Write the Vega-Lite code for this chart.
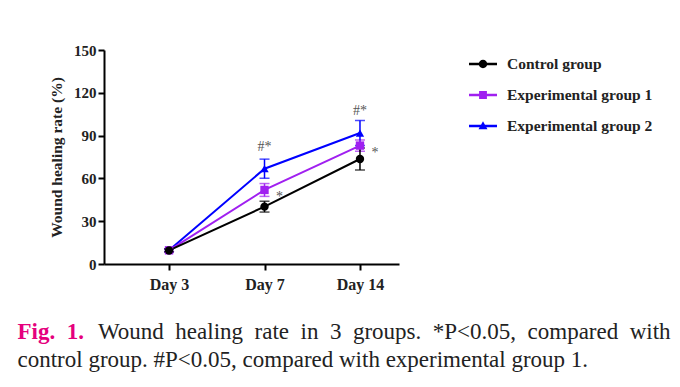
{
  "$schema": "https://vega.github.io/schema/vega-lite/v6.json",
  "width": 295,
  "height": 214,
  "padding": {"left": 17, "top": 43, "right": 10, "bottom": 10},
  "background": "white",
  "config": {
    "view": {"stroke": null},
    "font": "Liberation Serif",
    "legend": {
      "title": null,
      "orient": "right",
      "offset": 70,
      "padding": 0,
      "labelFont": "Liberation Serif",
      "labelFontWeight": "bold",
      "labelFontSize": 15.5,
      "labelColor": "#222222",
      "labelOffset": 10,
      "symbolSize": 784,
      "symbolStrokeWidth": 0,
      "symbolOpacity": 1
    }
  },
  "title": {
    "text": "Fig.\u00a0\u00a01.",
    "orient": "bottom",
    "anchor": "start",
    "dx": -32,
    "offset": 29,
    "font": "Liberation Serif",
    "fontSize": 23,
    "fontWeight": "bold",
    "color": "#e5007d",
    "subtitle": [
      "\u200b\u00a0\u00a0\u00a0\u00a0\u00a0\u00a0\u00a0\u00a0\u00a0\u00a0\u00a0\u00a0\u00a0\u00a0Wound\u00a0\u00a0healing\u00a0\u00a0rate\u00a0\u00a0in\u00a0\u00a03\u00a0\u00a0groups.\u00a0\u00a0*P<0.05,\u00a0\u00a0compared\u00a0\u00a0with",
      "control group. #P<0.05, compared with experimental group 1."
    ],
    "subtitleFont": "Liberation Serif",
    "subtitleFontSize": 23,
    "subtitleColor": "#222222",
    "subtitleFontWeight": "normal",
    "subtitlePadding": -23,
    "subtitleLineHeight": 28
  },
  "data": {
    "values": [
      {"group": "Experimental group 2", "day": "Day 3", "mean": 9.7, "sd": 1.0, "sig": ""},
      {"group": "Experimental group 2", "day": "Day 7", "mean": 66.8, "sd": 6.7, "sig": "#*"},
      {"group": "Experimental group 2", "day": "Day 14", "mean": 91.8, "sd": 8.8, "sig": "#*"},
      {"group": "Experimental group 1", "day": "Day 3", "mean": 9.6, "sd": 1.0, "sig": ""},
      {"group": "Experimental group 1", "day": "Day 7", "mean": 51.9, "sd": 4.5, "sig": "*"},
      {"group": "Experimental group 1", "day": "Day 14", "mean": 83.0, "sd": 4.0, "sig": "*"},
      {"group": "Control group", "day": "Day 3", "mean": 9.5, "sd": 1.0, "sig": ""},
      {"group": "Control group", "day": "Day 7", "mean": 40.2, "sd": 3.8, "sig": ""},
      {"group": "Control group", "day": "Day 14", "mean": 73.6, "sd": 7.7, "sig": ""}
    ]
  },
  "encoding": {
    "x": {
      "field": "day",
      "type": "ordinal",
      "sort": ["Day 3", "Day 7", "Day 14"],
      "scale": {"type": "point", "padding": 0.545, "align": 0.625},
      "axis": {
        "title": null,
        "labelAngle": 0,
        "labelFont": "Liberation Serif",
        "labelFontWeight": "bold",
        "labelFontSize": 16,
        "labelColor": "#222222",
        "labelPadding": 6,
        "domainColor": "#000000",
        "domainWidth": 2,
        "tickColor": "#000000",
        "tickWidth": 2,
        "tickSize": 6,
        "grid": false
      }
    },
    "y": {
      "field": "mean",
      "type": "quantitative",
      "scale": {"domain": [0, 150], "nice": false, "zero": true},
      "axis": {
        "title": "Wound healing rate (%)",
        "values": [0, 30, 60, 90, 120, 150],
        "titleFont": "Liberation Serif",
        "titleFontWeight": "bold",
        "titleFontSize": 15.5,
        "titleColor": "#222222",
        "titlePadding": 9,
        "labelFont": "Liberation Serif",
        "labelFontWeight": "bold",
        "labelFontSize": 15,
        "labelColor": "#222222",
        "labelPadding": 2,
        "domainColor": "#000000",
        "domainWidth": 2,
        "tickColor": "#000000",
        "tickWidth": 2,
        "tickSize": 6,
        "grid": false
      }
    }
  },
  "layer": [
    {
      "mark": {"type": "errorbar", "ticks": {"size": 10}, "thickness": 1.5},
      "encoding": {
        "yError": {"field": "sd"},
        "color": {
          "field": "group",
          "type": "nominal",
          "scale": {"range": ["#000000", "#a020f0", "#0000ff"]},
          "legend": null
        }
      }
    },
    {
      "mark": {"type": "line", "strokeWidth": 2},
      "encoding": {
        "color": {"field": "group", "type": "nominal", "legend": null}
      }
    },
    {
      "mark": {"type": "point", "filled": true, "opacity": 1, "size": 70},
      "encoding": {
        "color": {"field": "group", "type": "nominal", "legend": null},
        "shape": {
          "field": "group",
          "type": "nominal",
          "scale": {"range": ["circle", "square", "triangle-up"]},
          "legend": null
        }
      }
    },
    {
      "transform": [{"filter": "datum.group == 'Experimental group 2' && datum.sig != ''"}],
      "mark": {"type": "text", "dy": -22, "fontSize": 14, "color": "#555555", "font": "Liberation Serif", "baseline": "middle"},
      "encoding": {"text": {"field": "sig"}}
    },
    {
      "transform": [{"filter": "datum.group == 'Experimental group 1' && datum.sig != ''"}],
      "mark": {"type": "text", "dx": 15, "dy": 7, "fontSize": 14, "color": "#555555", "font": "Liberation Serif", "baseline": "middle"},
      "encoding": {"text": {"field": "sig"}}
    },
    {
      "transform": [{"filter": "datum.group == 'none'"}],
      "mark": {"type": "point", "filled": true, "opacity": 1, "size": 784, "color": "#000000"},
      "encoding": {
        "shape": {
          "field": "group",
          "type": "nominal",
          "scale": {
            "domain": ["Control group"],
            "range": ["M-1,-0.09H1V0.09H-1ZM0.3,0A0.3,0.3,0,1,1,-0.3,0A0.3,0.3,0,1,1,0.3,0Z"]
          }
        }
      }
    },
    {
      "transform": [{"filter": "datum.group == 'none'"}],
      "mark": {"type": "point", "filled": true, "opacity": 1, "size": 784, "color": "#a020f0"},
      "encoding": {
        "shape": {
          "field": "group",
          "type": "nominal",
          "scale": {
            "domain": ["Experimental group 1"],
            "range": ["M-1,-0.09H1V0.09H-1ZM-0.28,-0.28H0.28V0.28H-0.28Z"]
          }
        }
      }
    },
    {
      "transform": [{"filter": "datum.group == 'none'"}],
      "mark": {"type": "point", "filled": true, "opacity": 1, "size": 784, "color": "#0000ff"},
      "encoding": {
        "shape": {
          "field": "group",
          "type": "nominal",
          "scale": {
            "domain": ["Experimental group 2"],
            "range": ["M-1,-0.09H1V0.09H-1ZM0,-0.34L0.32,0.24H-0.32Z"]
          }
        }
      }
    }
  ],
  "resolve": {"scale": {"shape": "independent"}}
}
